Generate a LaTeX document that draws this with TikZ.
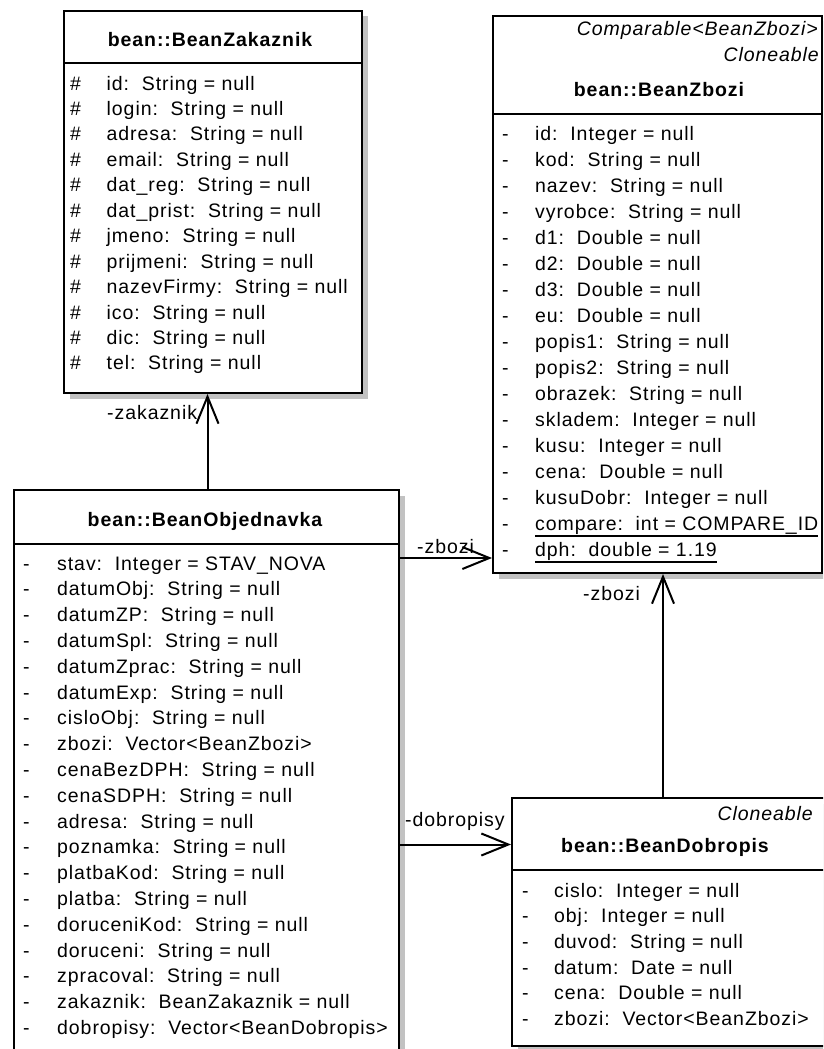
\documentclass[tikz,border=0pt]{standalone}
\usepackage{fontspec}
\setmainfont{Liberation Sans}[LetterSpace=4.8]
\usetikzlibrary{arrows.meta,shadows}
\begin{document}
\begin{tikzpicture}[x=1pt,y=-1pt,
  font=\fontsize{19.5}{22}\selectfont,
  classbox/.style={draw, line width=2pt, fill=white, inner sep=0pt, anchor=north west,
    drop shadow={shadow xshift=5.5pt, shadow yshift=-5.5pt, opacity=1, fill=black!24}},
  sepline/.style={line width=2pt},
  txt/.style={inner sep=0pt, anchor=base west},
  ttl/.style={inner sep=0pt, anchor=base, font=\fontsize{19.5}{22}\selectfont\bfseries},
  stereo/.style={inner sep=0pt, anchor=base east, font=\fontsize{19.5}{22}\selectfont\itshape},
  assoc/.style={line width=2pt, -{Straight Barb[length=27pt,width=22pt]}},
  role/.style={inner sep=0pt, anchor=base west}]
\path[use as bounding box] (0,0) rectangle (823,1049);
\clip (0,0) rectangle (823,1049);

% class boxes
\node[classbox, minimum width=298pt, minimum height=382pt] (zak) at (63,10) {};
\node[classbox, minimum width=329pt, minimum height=557pt] (zbo) at (492,15) {};
\node[classbox, minimum width=385pt, minimum height=590pt] (obj) at (13,489) {};
\node[classbox, minimum width=315pt, minimum height=248pt] (dob) at (511,797) {};

% compartment separators
\draw[sepline] (zak.west |- 0,63) -- (zak.east |- 0,63);
\draw[sepline] (zbo.west |- 0,114) -- (zbo.east |- 0,114);
\draw[sepline] (obj.west |- 0,544) -- (obj.east |- 0,544);
\draw[sepline] (dob.west |- 0,870) -- (dob.east |- 0,870);

% bean::BeanZakaznik
\node[ttl] (zakT) at (210,46.5) {bean::BeanZakaznik};
\foreach \n/\t [count=\i from 0] in {id/String = null, login/String = null,
    adresa/String = null, email/String = null, dat\_reg/String = null,
    dat\_prist/String = null, jmeno/String = null, prijmeni/String = null,
    nazevFirmy/String = null, ico/String = null, dic/String = null, tel/String = null}{
  \node[txt] (zakV\i) at (70,{90+25.45*\i}) {\#};
  \node[txt] (zakA\i) at (106.5,{90+25.45*\i}) {\n:\ \ \t};
}

% bean::BeanZbozi
\node[stereo] (zboS1) at (818,36) {Comparable<BeanZbozi>};
\node[stereo] (zboS2) at (819,61.7) {Cloneable};
\node[ttl] (zboT) at (659,96.7) {bean::BeanZbozi};
\foreach \n/\t [count=\i from 0] in {id/Integer = null, kod/String = null,
    nazev/String = null, vyrobce/String = null, d1/Double = null, d2/Double = null,
    d3/Double = null, eu/Double = null, popis1/String = null, popis2/String = null,
    obrazek/String = null, skladem/Integer = null, kusu/Integer = null,
    cena/Double = null, kusuDobr/Integer = null}{
  \node[txt] (zboV\i) at (502,{140.7+25.95*\i}) {-};
  \node[txt] (zboA\i) at (535,{140.7+25.95*\i}) {\n:\ \ \t};
}
\node[txt] (zboV15) at (502,530) {-};
\node[txt] (zboA15) at (535,530) {compare:\ \ int = COMPARE\_ID};
\node[txt] (zboV16) at (502,556) {-};
\node[txt] (zboA16) at (535,556) {dph:\ \ double = 1.19};
\draw[sepline] ([yshift=-5.5pt]zboA15.base west) -- ([yshift=-5.5pt]zboA15.base east);
\draw[sepline] ([yshift=-6pt]zboA16.base west) -- ([yshift=-6pt]zboA16.base east);

% bean::BeanObjednavka
\node[ttl] (objT) at (205,526) {bean::BeanObjednavka};
\foreach \n/\t [count=\i from 0] in {stav/Integer = STAV\_NOVA, datumObj/String = null,
    datumZP/String = null, datumSpl/String = null, datumZprac/String = null,
    datumExp/String = null, cisloObj/String = null, zbozi/Vector<BeanZbozi>,
    cenaBezDPH/String = null, cenaSDPH/String = null, adresa/String = null,
    poznamka/String = null, platbaKod/String = null, platba/String = null,
    doruceniKod/String = null, doruceni/String = null, zpracoval/String = null,
    zakaznik/BeanZakaznik = null, dobropisy/Vector<BeanDobropis>}{
  \node[txt] (objV\i) at (23,{570+25.8*\i}) {-};
  \node[txt] (objA\i) at (57,{570+25.8*\i}) {\n:\ \ \t};
}

% bean::BeanDobropis
\node[stereo] (dobS) at (813,820) {Cloneable};
\node[ttl] (dobT) at (665,852.7) {bean::BeanDobropis};
\foreach \n/\t [count=\i from 0] in {cislo/Integer = null, obj/Integer = null,
    duvod/String = null, datum/Date = null, cena/Double = null,
    zbozi/Vector<BeanZbozi>}{
  \node[txt] (dobV\i) at (522,{897.3+25.6*\i}) {-};
  \node[txt] (dobA\i) at (554,{897.3+25.6*\i}) {\n:\ \ \t};
}

% associations
\coordinate (axZak) at (207.5,0);
\coordinate (ayZbo) at (0,558);
\coordinate (axDob) at (663,0);
\coordinate (ayDob) at (0,844.5);
\draw[assoc] (obj.north -| axZak) -- (zak.south -| axZak);
\draw[assoc] (obj.east |- ayZbo) -- (zbo.west |- ayZbo);
\draw[assoc] (dob.north -| axDob) -- (zbo.south -| axDob);
\draw[assoc] (obj.east |- ayDob) -- (dob.west |- ayDob);

% role names
\node[role] (rZak) at (107,419.3) {-zakaznik};
\node[role] (rZbo1) at (417,553) {-zbozi};
\node[role] (rZbo2) at (583,600) {-zbozi};
\node[role] (rDob) at (405,826.7) {-dobropisy};
\end{tikzpicture}
\end{document}
